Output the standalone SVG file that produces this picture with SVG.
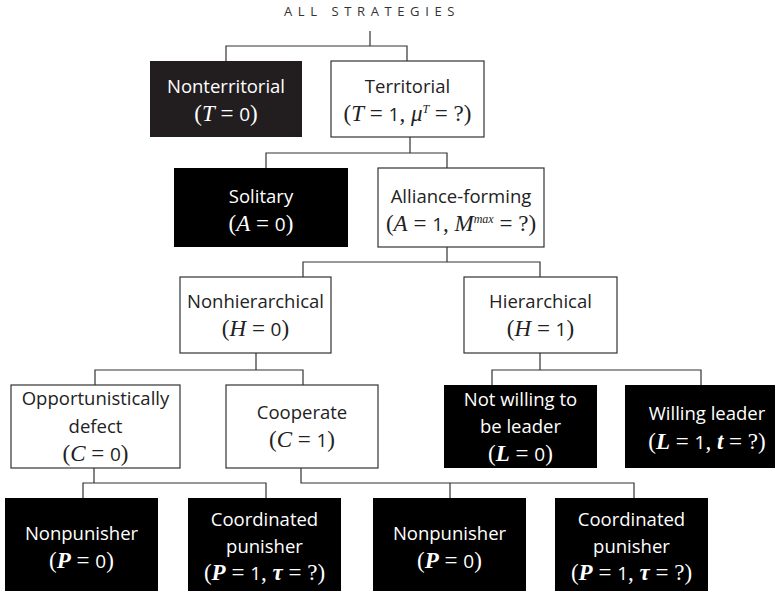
<svg xmlns="http://www.w3.org/2000/svg" width="775" height="593" viewBox="0 0 775 593">
<style>
.t{font-family:"Open Sans","DejaVu Sans",sans-serif;font-size:18.5px;text-anchor:middle;fill:#222}
.m{font-family:"Liberation Serif","DejaVu Serif",serif;font-size:23px;text-anchor:middle;fill:#222}
.w .t,.w .m{fill:#fff}
.v{font-style:italic}
.b{font-style:italic;font-weight:bold}
.d{font-family:"Open Sans","DejaVu Sans",sans-serif;font-size:19px}
.s{font-style:italic;font-size:12px}
.wb{fill:#fff;stroke:#333;stroke-width:1.2}
.bb{fill:#000}
.conn path{fill:none;stroke:#333;stroke-width:1.2}
.title{font-family:"Open Sans","DejaVu Sans",sans-serif;font-size:13px;letter-spacing:5.6px;text-anchor:middle;fill:#333}
</style>
<text class="title" x="372" y="16">ALL STRATEGIES</text>
<g id="connectors" class="conn">
<path d="M370 31V46M226 61V46H407V61"/>
<path d="M410 137V153M266 168V153H447V168"/>
<path d="M447 247V262M303 277V262H540V277"/>
<path d="M256 353V370M95 385V370H303V385"/>
<path d="M540 353V370M492 385V370H701V385"/>
<path d="M94 468V483M83 498V483H266V498"/>
<path d="M301 468V483H634V498M450 483V498"/>
</g>
<g id="nonterritorial" class="w">
<rect x="150" y="61" width="152" height="76" fill="#221e1f"/>
<text class="t" x="226" y="93">Nonterritorial</text>
<text class="m" x="226" y="121">(<tspan class="v">T</tspan> = <tspan class="d">0</tspan>)</text>
</g>
<g id="territorial">
<rect class="wb" x="331" y="61" width="153" height="76"/>
<text class="t" x="407.5" y="93">Territorial</text>
<text class="m" x="407.5" y="121">(<tspan class="v">T</tspan> = <tspan class="d">1</tspan>, <tspan class="v">μ</tspan><tspan class="s" dy="-8">T</tspan><tspan dy="8"> = ?)</tspan></text>
</g>
<g id="solitary" class="w">
<rect class="bb" x="174" y="168" width="174" height="79"/>
<text class="t" x="261" y="203">Solitary</text>
<text class="m" x="261" y="231">(<tspan class="v">A</tspan> = <tspan class="d">0</tspan>)</text>
</g>
<g id="alliance">
<rect class="wb" x="378" y="168" width="166" height="79"/>
<text class="t" x="461" y="203">Alliance-forming</text>
<text class="m" x="461" y="231">(<tspan class="v">A</tspan> = <tspan class="d">1</tspan>, <tspan class="v">M</tspan><tspan class="s" dy="-8">max</tspan><tspan dy="8"> = ?)</tspan></text>
</g>
<g id="nonhierarchical">
<rect class="wb" x="180" y="277" width="151" height="76"/>
<text class="t" x="255.5" y="308">Nonhierarchical</text>
<text class="m" x="255.5" y="336">(<tspan class="v">H</tspan> = <tspan class="d">0</tspan>)</text>
</g>
<g id="hierarchical">
<rect class="wb" x="464" y="277" width="153" height="76"/>
<text class="t" x="540.5" y="308">Hierarchical</text>
<text class="m" x="540.5" y="336">(<tspan class="v">H</tspan> = <tspan class="d">1</tspan>)</text>
</g>
<g id="defect">
<rect class="wb" x="11" y="385" width="169" height="83"/>
<text class="t" x="95.5" y="405">Opportunistically</text>
<text class="t" x="95.5" y="433">defect</text>
<text class="m" x="95.5" y="461">(<tspan class="v">C</tspan> = <tspan class="d">0</tspan>)</text>
</g>
<g id="cooperate">
<rect class="wb" x="226" y="385" width="152" height="83"/>
<text class="t" x="302" y="419">Cooperate</text>
<text class="m" x="302" y="447">(<tspan class="v">C</tspan> = <tspan class="d">1</tspan>)</text>
</g>
<g id="notwilling" class="w">
<rect class="bb" x="444" y="385" width="153" height="83"/>
<text class="t" x="520.5" y="406">Not willing to</text>
<text class="t" x="520.5" y="433">be leader</text>
<text class="m" x="520.5" y="461">(<tspan class="b">L</tspan> = <tspan class="d">0</tspan>)</text>
</g>
<g id="willing" class="w">
<rect class="bb" x="625" y="385" width="164" height="83"/>
<text class="t" x="707" y="420">Willing leader</text>
<text class="m" x="707" y="449">(<tspan class="b">L</tspan> = <tspan class="d">1</tspan>, <tspan class="b">t</tspan> = ?)</text>
</g>
<g id="nonpunisher1" class="w">
<rect class="bb" x="5" y="498" width="153" height="93"/>
<text class="t" x="81.5" y="540">Nonpunisher</text>
<text class="m" x="81.5" y="568">(<tspan class="b">P</tspan> = <tspan class="d">0</tspan>)</text>
</g>
<g id="punisher1" class="w">
<rect class="bb" x="188" y="498" width="153" height="93"/>
<text class="t" x="264.5" y="526">Coordinated</text>
<text class="t" x="264.5" y="553">punisher</text>
<text class="m" x="264.5" y="580">(<tspan class="b">P</tspan> = <tspan class="d">1</tspan>, <tspan class="b">τ</tspan> = ?)</text>
</g>
<g id="nonpunisher2" class="w">
<rect class="bb" x="373" y="498" width="153" height="93"/>
<text class="t" x="449.5" y="540">Nonpunisher</text>
<text class="m" x="449.5" y="568">(<tspan class="b">P</tspan> = <tspan class="d">0</tspan>)</text>
</g>
<g id="punisher2" class="w">
<rect class="bb" x="555" y="498" width="153" height="93"/>
<text class="t" x="631.5" y="526">Coordinated</text>
<text class="t" x="631.5" y="553">punisher</text>
<text class="m" x="631.5" y="580">(<tspan class="b">P</tspan> = <tspan class="d">1</tspan>, <tspan class="b">τ</tspan> = ?)</text>
</g>
</svg>
